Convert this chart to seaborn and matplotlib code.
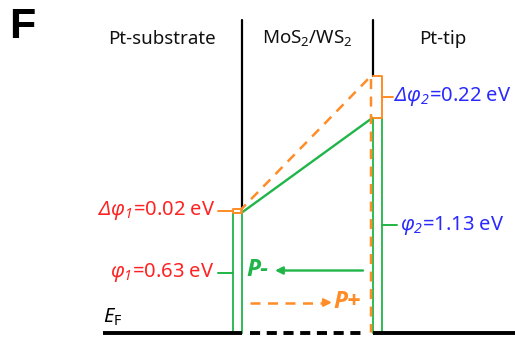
import matplotlib
matplotlib.use("Agg")
import matplotlib.pyplot as plt
from matplotlib.patches import Rectangle
import pandas as pd
import seaborn as sns

# ---- data (eV) ----
regions = ["Pt-substrate", r"MoS$_2$/WS$_2$", "Pt-tip"]
phi = [0.63, 1.13]        # work-function barrier at substrate side / tip side
dphi = [0.02, 0.22]       # barrier change on polarization switching
polar_labels = ["P-", "P+"]
fermi_label = r"$\mathsf{E}_\mathrm{F}$"
panel_label = "F"

# ---- style ----
sns.set_theme(style="white")
plt.rcParams["font.family"] = ["Noto Sans", "DejaVu Sans"]
plt.rcParams["text.color"] = "black"
plt.rcParams["mathtext.fontset"] = "custom"
plt.rcParams["mathtext.rm"] = "Noto Sans"
plt.rcParams["mathtext.sf"] = "Noto Sans:italic"
plt.rcParams["mathtext.it"] = "Noto Sans:italic"

GREEN = "#1fb548"
ORANGE = "#ff8c26"
RED = "#ff2222"
BLUE = "#2a2aff"
BLACK = "black"

PX = 190.0                 # vertical pixels per eV
X_SUB, X_TIP = 241.5, 372.5
BOX_W = 9
TOP = 313 / PX             # upper end of interface lines
FS_HEAD = 13.5
FS_LAB = 14.5
FS_POL = 17.5

fig = plt.figure(figsize=(5.15, 3.37), dpi=100)
ax = fig.add_axes([0, 0, 1, 1])
YLIM = (-(337 - 332.5) / PX, 332.5 / PX)

# panel letter and region headers
HEAD_Y = 294 / PX
ax.text(9, 305 / PX, panel_label, fontsize=31, fontweight="bold",
        family="Liberation Sans", va="center", ha="left", color=BLACK)
for x, name in zip([162, 307, 443], regions):
    ax.text(x, HEAD_Y, name, fontsize=FS_HEAD, ha="center", va="center",
            color="#111111")

# interface lines above the barriers
ax.plot([X_SUB, X_SUB], [TOP, phi[0] + dphi[0]], color=BLACK, lw=1.6)
ax.plot([X_TIP, X_TIP], [TOP, phi[1] + dphi[1]], color=BLACK, lw=1.6)

# Fermi level
ax.plot([103, X_SUB], [0, 0], color=BLACK, lw=2.8, solid_capstyle="butt")
ax.plot([250, 366], [0, 0], color=BLACK, lw=2.8, dashes=(2.6, 1.7))
ax.plot([X_TIP, 515], [0, 0], color=BLACK, lw=2.8, solid_capstyle="butt")
ax.text(103, 15 / PX, fermi_label, fontsize=FS_LAB, ha="left", va="center")

# barrier heights phi1 / phi2 as open boxes
ax.add_patch(Rectangle((X_SUB - BOX_W, 0), BOX_W, phi[0], fill=False,
                       edgecolor=GREEN, lw=1.3))
ax.add_patch(Rectangle((X_TIP + 0.5, 0), BOX_W, phi[1], fill=False,
                       edgecolor=GREEN, lw=1.3))

# band profile for P- (solid) and P+ (dashed)
profile_minus = pd.DataFrame({"x": [X_SUB, X_TIP], "E": [phi[0], phi[1]]})
profile_plus = pd.DataFrame({
    "x": [X_SUB, X_SUB, X_TIP - 1.5, X_TIP - 1.5],
    "E": [phi[0], phi[0] + dphi[0], phi[1] + dphi[1], 0],
})
sns.lineplot(data=profile_minus, x="x", y="E", color=GREEN, lw=1.7,
             sort=False, estimator=None, ax=ax)
sns.lineplot(data=profile_plus, x="x", y="E", color=ORANGE, lw=1.8,
             sort=False, estimator=None, ax=ax, dashes=False,
             linestyle=(0, (4, 3)))

# delta-phi brackets
l0, l1 = phi[0], phi[0] + dphi[0]
ax.plot([X_SUB, X_SUB - BOX_W, X_SUB - BOX_W, X_SUB], [l1, l1, l0, l0],
        color=ORANGE, lw=1.4)
r0, r1 = phi[1], phi[1] + dphi[1]
xr = X_TIP + BOX_W + 0.5
ax.plot([X_TIP, xr, xr, X_TIP], [r1, r1, r0, r0], color=ORANGE, lw=1.4)

# leader ticks
m_d1 = (l0 + l1) / 2
m_p1 = phi[0] / 2
m_d2 = (r0 + r1) / 2
m_p2 = phi[1] / 2
ax.plot([218, X_SUB - BOX_W], [m_d1, m_d1], color=ORANGE, lw=1.4)
ax.plot([218, X_SUB - BOX_W], [m_p1, m_p1], color=GREEN, lw=1.4)
ax.plot([xr, 393], [m_d2, m_d2], color=ORANGE, lw=1.4)
ax.plot([xr, 397], [m_p2, m_p2], color=GREEN, lw=1.4)

# value labels
ax.text(215, m_d1, r"$\mathsf{Δφ}_{\mathsf{1}}$" + f"={dphi[0]:.2f} eV",
        color=RED, fontsize=FS_LAB, ha="right", va="center")
ax.text(214, m_p1, r"$\mathsf{φ}_{\mathsf{1}}$" + f"={phi[0]:.2f} eV",
        color=RED, fontsize=FS_LAB, ha="right", va="center")
ax.text(394, m_d2, r"$\mathsf{Δφ}_{\mathsf{2}}$" + f"={dphi[1]:.2f} eV",
        color=BLUE, fontsize=FS_LAB, ha="left", va="center")
ax.text(400, m_p2, r"$\mathsf{φ}_{\mathsf{2}}$" + f"={phi[1]:.2f} eV",
        color=BLUE, fontsize=FS_LAB, ha="left", va="center")

# polarization arrows
E_MINUS = 62 / PX
E_PLUS = 30 / PX
ax.annotate("", xy=(275, E_MINUS), xytext=(363, E_MINUS),
            arrowprops=dict(arrowstyle="-|>", color=GREEN, lw=1.7,
                            mutation_scale=11, shrinkA=0, shrinkB=0))
ax.text(246, E_MINUS, polar_labels[0], color=GREEN, fontsize=FS_POL,
        fontweight="bold", style="italic", family="Open Sans",
        ha="left", va="center")
ax.plot([250, 324], [E_PLUS, E_PLUS], color=ORANGE, lw=1.8,
        linestyle=(0, (4, 3)))
ax.annotate("", xy=(332, E_PLUS), xytext=(323, E_PLUS),
            arrowprops=dict(arrowstyle="-|>", color=ORANGE, lw=1.8,
                            mutation_scale=11, shrinkA=0, shrinkB=0))
ax.text(333, E_PLUS, polar_labels[1], color=ORANGE, fontsize=FS_POL,
        fontweight="bold", style="italic", family="Open Sans",
        ha="left", va="center")

ax.set_xlim(0, 515)
ax.set_ylim(*YLIM)
ax.axis("off")

fig.savefig("out.png", dpi=100)
